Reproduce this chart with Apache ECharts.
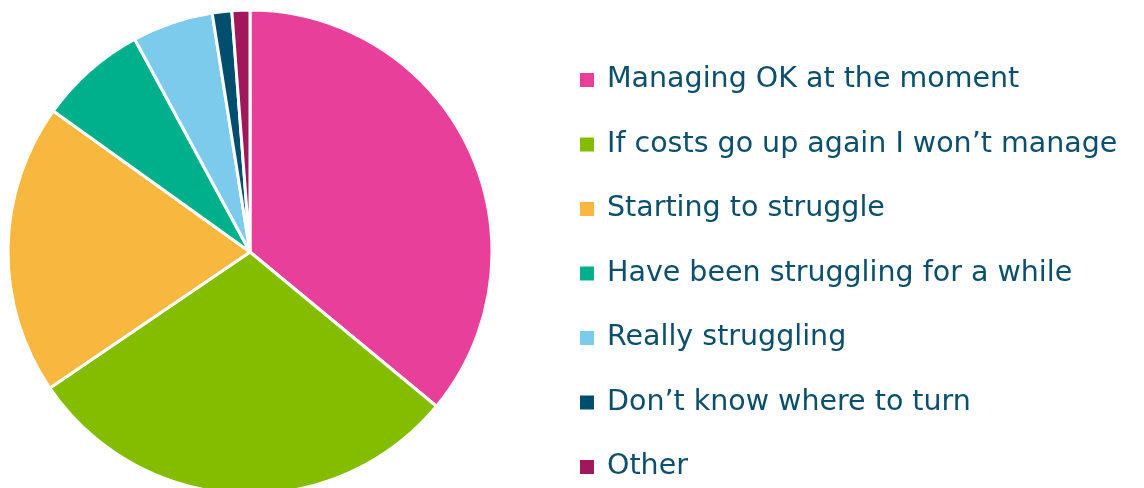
<!DOCTYPE html>
<html><head><meta charset="utf-8">
<script src="https://cdn.jsdelivr.net/npm/echarts@6/dist/echarts.min.js"></script>
<style>html,body{margin:0;padding:0;background:#fff}#c{width:1144px;height:488px}</style>
</head><body><div id="c"></div>
<script>
const categories = ["Managing OK at the moment","If costs go up again I won\u2019t manage","Starting to struggle","Have been struggling for a while","Really struggling","Don\u2019t know where to turn","Other"];
const values = [36, 29.5, 19.4, 7.2, 5.4, 1.3, 1.2];
const colors = ["#e8409a","#84bd00","#f8b73e","#00b08d","#7dcbec","#004e6d","#a0175b"];
const chart = echarts.init(document.getElementById('c'));
chart.setOption({
  animation:false,
  color: colors,
  legend:{
    orient:'vertical', left:578, top:65, height:440, padding:0,
    itemWidth:16, itemHeight:16, itemGap:34.5,
    icon:'rect',
    textStyle:{fontFamily:'DejaVu Sans', fontSize:28.5, color:'#0b4f6c', lineHeight:30, padding:[0,0,0,7]},
    data: categories
  },
  series:[{
    type:'pie', center:[250,252], radius:[0,242],
    startAngle:90, clockwise:true,
    label:{show:false}, labelLine:{show:false},
    itemStyle:{borderColor:'#fff', borderWidth:3},
    emphasis:{disabled:true},
    data: categories.map((n,i)=>({name:n, value:values[i]}))
  }]
});
</script></body></html>
